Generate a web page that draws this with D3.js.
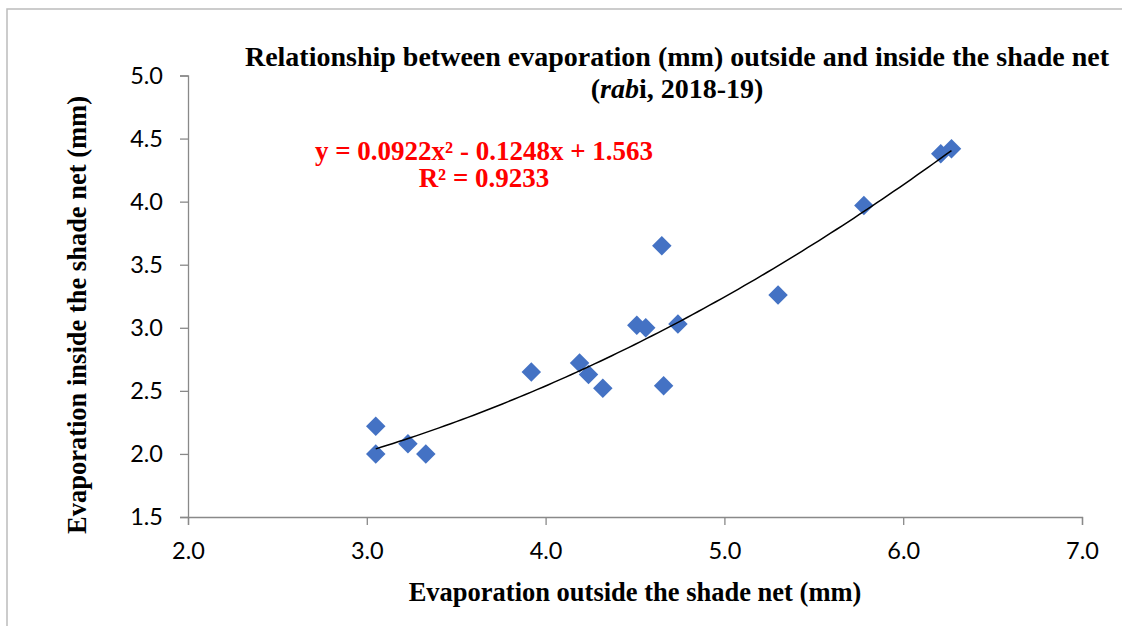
<!DOCTYPE html>
<html>
<head>
<meta charset="utf-8">
<script src="https://cdn.jsdelivr.net/npm/d3@7"></script>
<style>
  html, body { margin: 0; padding: 0; background: #fff; }
  #chart svg { display: block; }
  .axis path, .axis line { stroke: #898989; stroke-width: 1.3; }
  .axis text { font-family: Lato, "Open Sans", sans-serif; font-size: 23.5px; fill: #000; }
  .serif { font-family: "Liberation Serif", "Times New Roman", serif; font-weight: bold; }
</style>
</head>
<body>
<div id="chart"></div>
<script>
// evaporation outside (x) and inside (y) the shade net, mm
const outside = [3.05, 3.05, 3.23, 3.33, 3.92, 4.19, 4.24, 4.32, 4.51, 4.56, 4.74, 4.66, 4.65, 5.30, 5.78, 6.21, 6.27];
const inside  = [2.22, 2.00, 2.08, 2.00, 2.65, 2.72, 2.63, 2.52, 3.02, 3.00, 3.03, 2.54, 3.65, 3.26, 3.97, 4.38, 4.42];

const xTicks = [2.0, 3.0, 4.0, 5.0, 6.0, 7.0];
const yTicks = [1.5, 2.0, 2.5, 3.0, 3.5, 4.0, 4.5, 5.0];

// polynomial trendline as printed on the chart
const coef = [0.0922, -0.1248, 1.563];
const eqLines = ["y = 0.0922x\u00B2 - 0.1248x + 1.563", "R\u00B2 = 0.9233"];

const width = 1122, height = 626;
const margin = { left: 188, right: 40, top: 75.5, bottom: 109 };

const svg = d3.select("#chart").append("svg")
  .attr("width", width)
  .attr("height", height);

// chart frame
svg.append("rect")
  .attr("x", 7).attr("y", 9)
  .attr("width", width + 20).attr("height", height + 20)
  .attr("fill", "none")
  .attr("stroke", "#bcbcbc")
  .attr("stroke-width", 1.5);

const x = d3.scaleLinear().domain([2, 7]).range([margin.left, width - margin.right]);
const y = d3.scaleLinear().domain([1.5, 5]).range([height - margin.bottom, margin.top]);

const xAxis = d3.axisBottom(x).tickValues(xTicks).tickFormat(d3.format(".1f"))
  .tickSize(8).tickPadding(17).tickSizeOuter(8);
const yAxis = d3.axisLeft(y).tickValues(yTicks).tickFormat(d3.format(".1f"))
  .tickSize(8).tickPadding(17).tickSizeOuter(8);

svg.append("g")
  .attr("class", "axis")
  .attr("transform", `translate(0, ${y(1.5)})`)
  .call(xAxis);

svg.append("g")
  .attr("class", "axis")
  .attr("transform", `translate(${x(2)}, 0)`)
  .call(yAxis);

// trendline over the data range
const xs = d3.range(101).map(i => d3.min(outside) + (d3.max(outside) - d3.min(outside)) * i / 100);
const line = d3.line()
  .x(d => x(d))
  .y(d => y(coef[0] * d * d + coef[1] * d + coef[2]));

// markers
const diamond = d3.symbol().type(d3.symbolSquare).size(190);
svg.append("g")
  .selectAll("path")
  .data(outside.map((v, i) => [v, inside[i]]))
  .enter()
  .append("path")
  .attr("d", diamond)
  .attr("transform", d => `translate(${x(d[0])}, ${y(d[1])}) rotate(45)`)
  .attr("fill", "#4472c4");

svg.append("path")
  .datum(xs)
  .attr("d", line)
  .attr("fill", "none")
  .attr("stroke", "#000")
  .attr("stroke-width", 1.5);

// title
const title = svg.append("text")
  .attr("class", "serif")
  .attr("text-anchor", "middle")
  .attr("font-size", 28);
title.append("tspan").attr("x", 677).attr("y", 66)
  .text("Relationship between evaporation (mm) outside and inside the shade net");
const t2 = title.append("tspan").attr("x", 677).attr("y", 98);
t2.append("tspan").text("(");
t2.append("tspan").attr("font-style", "italic").text("rab");
t2.append("tspan").text("i, 2018-19)");

// equation
svg.append("text")
  .attr("class", "serif")
  .attr("text-anchor", "middle")
  .attr("font-size", 27)
  .attr("fill", "#ff0000")
  .selectAll("tspan")
  .data(eqLines)
  .enter()
  .append("tspan")
  .attr("x", 484)
  .attr("y", (d, i) => 160 + i * 27)
  .text(d => d);

// axis titles
svg.append("text")
  .attr("class", "serif")
  .attr("text-anchor", "middle")
  .attr("font-size", 26.5)
  .attr("x", x(4.5))
  .attr("y", 601)
  .text("Evaporation outside the shade net (mm)");

svg.append("text")
  .attr("class", "serif")
  .attr("text-anchor", "middle")
  .attr("font-size", 26.5)
  .attr("transform", "translate(86, 315) rotate(-90)")
  .text("Evaporation inside the shade net (mm)");
</script>
</body>
</html>
